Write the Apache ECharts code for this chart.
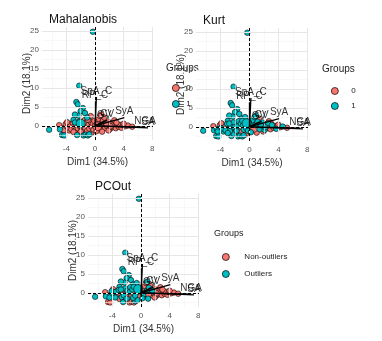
<!DOCTYPE html>
<html>
<head>
<meta charset="utf-8">
<script src="https://cdn.jsdelivr.net/npm/echarts@6/dist/echarts.min.js"></script>
<style>
  html, body { margin: 0; padding: 0; background: #fff; }
  #chart { width: 382px; height: 341px; }
</style>
</head>
<body>
<div id="chart"></div>
<script>
// individual coordinates (same PCA in all three panels)
var pts = [
  [-0.3, 24.8], [-2.2, 10.6], [-2.6, 6.3], [-2.4, 5.7], [-1.7, 4.7], [-2.0, 3.9], [-1.4, 3.4],
  [-2.3, 2.7], [-1.1, 2.2], [-3.0, 1.6], [0.9, 3.0], [-0.6, 2.6], [-2.8, 3.0],
  [-6.4, -1.0], [-4.9, -0.9], [-4.6, -2.4], [-4.3, -2.5], [-4.0, -0.3], [-3.6, -1.2],
  [-2.5, -2.4], [-1.6, -2.5], [-1.3, -2.3], [-1.0, -2.5], [-0.8, -2.2], [-2.2, -1.8], [-0.5, -1.9],
  [-5.0, 0.2], [-4.5, -0.6], [-4.1, 0.5], [-3.8, -0.4], [-3.5, 0.3], [-3.3, -0.9], [-3.1, 0.8],
  [-2.9, -0.2], [-2.7, -1.1], [-2.6, 0.4], [-2.4, -0.6], [-2.2, 1.2], [-2.1, -0.1], [-1.9, 0.6],
  [-1.8, -1.0], [-1.6, 0.2], [-1.5, 1.5], [-1.4, -0.5], [-1.2, 0.9], [-1.1, -1.3], [-0.9, 0.3],
  [-0.8, -0.7], [-0.6, 1.1], [-0.5, -0.2], [-0.3, 0.6], [-0.2, -1.0], [-3.9, 1.0], [-4.4, -1.2],
  [-3.0, -1.6], [-2.0, -1.5], [-1.0, 1.6], [-2.8, 0.9],
  [0.1, 0.4], [0.3, -0.6], [0.5, 1.0], [0.6, -0.2], [0.8, 0.5], [0.9, -1.0], [1.1, 1.4],
  [1.2, 0.1], [1.4, -0.6], [1.5, 0.8], [1.7, -0.1], [1.8, 1.2], [2.0, 0.3], [2.1, -0.8],
  [2.3, 0.7], [2.4, -0.3], [2.6, 1.0], [2.8, 0.1], [2.9, -0.6], [3.1, 0.5], [3.3, -0.2],
  [3.5, 0.3], [3.7, -0.5], [3.9, 0.2], [4.2, -0.1], [4.6, 0.1], [5.2, -0.2], [0.4, 1.8],
  [1.3, 2.2], [0.2, -1.4], [1.0, -1.5], [1.9, -1.2], [2.7, 1.5], [0.7, 2.6], [-0.1, 1.3],
  [1.6, 0.4], [3.0, 0.9], [2.2, -0.1], [4.0, 0.6]
];
// group per point: 1 = outlier
var grpMaha = [
  1,1,1,1,1,1,1, 1,1,1,0,0,1,
  1,1,1,1,0,0,
  1,1,1,1,1,0,0,
  0,0,0,0,0,0,0, 0,0,0,0,1,0,0, 0,0,0,0,0,0,0, 0,0,0,0,0,0,0, 0,0,0,1,
  0,0,0,0,0,0,0, 0,0,0,0,0,0,0, 0,0,0,0,0,0,0, 0,0,0,0,0,0,0, 0,0,0,0,0,0,0, 0,0,0,0
];
var grpKurt = [
  1,1,1,1,1,1,1, 1,1,1,1,1,1,
  1,1,1,1,1,1,
  1,1,1,1,1,1,0,
  0,1,0,1,0,1,1, 0,1,1,0,1,1,0, 1,1,1,0,1,0,1, 1,0,1,0,1,0,1, 1,0,1,1,
  1,0,1,0,1,0,1, 0,1,0,0,1,0,1, 0,0,1,0,0,1,0, 0,1,0,0,1,0,1, 0,1,0,0,0,1,1, 1,0,1,0
];
var grpPCOut = [
  1,1,1,1,1,1,1, 1,1,1,1,1,1,
  1,1,0,0,1,1,
  1,0,0,0,1,0,1,
  0,0,1,0,1,0,1, 0,1,0,1,1,0,1, 0,1,1,0,1,1,0, 1,1,0,1,0,0,1, 0,1,1,1,
  0,1,0,0,1,0,1, 0,0,1,0,0,0,0, 0,0,0,0,0,0,0, 0,0,0,0,0,0,0, 0,1,1,0,0,0,0, 1,0,0,0
];
// group centroids [group0, group1]
var meanMaha = [[0.3, -0.1], [-2.0, 0.6]];
var meanKurt = [[0.6, -0.2], [-0.4, 1.0]];
var meanPCOut = [[0.9, -0.1], [-0.4, 1.0]];

// variable arrows
var varNames = ['SpA_C', 'RP_C', 'SyA', 'CV', 'GV', 'NGA', 'SA'];
var varX = [0.2, 0.0, 4.1, 1.7, 1.3, 7.0, 7.4];
var varY = [7.6, 6.5, 2.2, 1.5, 1.3, -0.3, -0.5];

var xTicks = [-4, 0, 4, 8];
var yTicks = [0, 5, 10, 15, 20, 25];
var xMinor = [-6, -2, 2, 6];
var yMinor = [-2.5, 2.5, 7.5, 12.5, 17.5, 22.5];

var panels = [
  { title: 'Mahalanobis', grp: grpMaha, mean: meanMaha, names: ['0', '1'],
    grid: { left: 42, top: 27, width: 111, height: 113 } },
  { title: 'Kurt', grp: grpKurt, mean: meanKurt, names: ['0', '1'],
    grid: { left: 196, top: 28, width: 112, height: 113 } },
  { title: 'PCOut', grp: grpPCOut, mean: meanPCOut, names: ['Non-outliers', 'Outliers'],
    grid: { left: 88, top: 194, width: 111, height: 113 } }
];

var colors = ['#F8766D', '#00BFC4'];
var font = 'Liberation Sans, Arial, sans-serif';

var myChart = echarts.init(document.getElementById('chart'));

var grids = [], xAxes = [], yAxes = [], series = [], titles = [];

panels.forEach(function (p, i) {
  grids.push(p.grid);
  titles.push({
    text: p.title, left: p.grid.left + 2, top: p.grid.top - 18,
    textStyle: { fontSize: 12, fontWeight: 'normal', color: '#111', fontFamily: font }
  });
  xAxes.push({
    gridIndex: i, type: 'value', min: -7.4, max: 8.1,
    name: 'Dim1 (34.5%)', nameLocation: 'middle', nameGap: 17, nameMoveOverlap: false,
    nameTextStyle: { fontSize: 10, color: '#333', fontFamily: font },
    axisLine: { show: false }, splitLine: { show: false },
    axisTick: { show: true, length: 2, customValues: xTicks, lineStyle: { color: '#666' } },
    axisLabel: { customValues: xTicks, fontSize: 8, color: '#555', margin: 5, fontFamily: font }
  });
  yAxes.push({
    gridIndex: i, type: 'value', min: -3.7, max: 26.05,
    name: 'Dim2 (18.1%)', nameLocation: 'middle', nameGap: 10, nameMoveOverlap: false,
    nameTextStyle: { fontSize: 10, color: '#333', fontFamily: font },
    axisLine: { show: false }, splitLine: { show: false },
    axisTick: { show: true, length: 2, customValues: yTicks, lineStyle: { color: '#666' } },
    axisLabel: { customValues: yTicks, fontSize: 8, color: '#555', margin: 3, fontFamily: font }
  });

  // gridlines and dashed zero lines
  var gl = [];
  xMinor.forEach(function (v) { gl.push({ xAxis: v, lineStyle: { color: '#f4f4f4', width: 0.6, type: 'solid' } }); });
  yMinor.forEach(function (v) { gl.push({ yAxis: v, lineStyle: { color: '#f4f4f4', width: 0.6, type: 'solid' } }); });
  xTicks.forEach(function (v) { gl.push({ xAxis: v, lineStyle: { color: '#e6e6e6', width: 1, type: 'solid' } }); });
  yTicks.forEach(function (v) { gl.push({ yAxis: v, lineStyle: { color: '#e6e6e6', width: 1, type: 'solid' } }); });
  gl.push({ xAxis: 0, lineStyle: { color: '#000', width: 1, type: [3, 2] } });
  gl.push({ yAxis: 0, lineStyle: { color: '#000', width: 1, type: [3, 2] } });
  series.push({
    type: 'scatter', xAxisIndex: i, yAxisIndex: i, data: [[0, 0]], symbolSize: 0, silent: true, z: 1,
    markLine: { silent: true, symbol: 'none', label: { show: false }, animation: false, data: gl }
  });

  // points by group
  [0, 1].forEach(function (g) {
    var d = [];
    pts.forEach(function (pt, k) { if (p.grp[k] === g) d.push(pt); });
    d.push({ value: p.mean[g], symbolSize: 9 });
    series.push({
      name: p.names[g], type: 'scatter', xAxisIndex: i, yAxisIndex: i, z: 3,
      symbolSize: 5.5, data: d,
      itemStyle: { color: colors[g], borderColor: '#000', borderWidth: 0.6, opacity: 1 }
    });
  });

  // variable arrows
  series.push({
    type: 'scatter', xAxisIndex: i, yAxisIndex: i, z: 5, symbolSize: 0, silent: true,
    data: varNames.map(function (n, k) { return { name: n, value: [varX[k], varY[k]] }; }),
    label: { show: true, position: 'top', distance: 1, formatter: '{b}', fontSize: 10, color: '#000', fontFamily: font },
    markLine: {
      silent: true, symbol: ['none', 'arrow'], symbolSize: [0, 6], animation: false,
      label: { show: false },
      lineStyle: { color: '#000', width: 1.3, type: 'solid' },
      data: varNames.map(function (n, k) { return [{ coord: [0, 0] }, { coord: [varX[k], varY[k]] }]; })
    }
  });
});

var legendText = { fontSize: 8, color: '#222', fontFamily: font };
var legendItem = { borderColor: '#000', borderWidth: 0.7 };
var option = {
  animation: false,
  title: titles,
  grid: grids,
  xAxis: xAxes,
  yAxis: yAxes,
  legend: [
    { data: ['0', '1'], orient: 'vertical', left: 167, top: 79, itemWidth: 7, itemHeight: 7, itemGap: 8,
      icon: 'circle', itemStyle: legendItem, textStyle: Object.assign({ padding: [0, 0, 0, 2] }, legendText), selectedMode: false },
    { data: ['0', '1'], orient: 'vertical', left: 326, top: 82, itemWidth: 7, itemHeight: 7, itemGap: 7,
      icon: 'circle', itemStyle: legendItem, textStyle: Object.assign({ padding: [0, 0, 0, 8] }, legendText), selectedMode: false },
    { data: ['Non-outliers', 'Outliers'], orient: 'vertical', left: 217, top: 248, itemWidth: 7, itemHeight: 7, itemGap: 9,
      icon: 'circle', itemStyle: legendItem, textStyle: Object.assign({ padding: [0, 0, 0, 10] }, legendText), selectedMode: false }
  ],
  graphic: [
    { type: 'text', left: 166, top: 63, style: { text: 'Groups', fontSize: 10, fill: '#222', fontFamily: font } },
    { type: 'text', left: 322, top: 64, style: { text: 'Groups', fontSize: 10, fill: '#222', fontFamily: font } },
    { type: 'text', left: 214, top: 229, style: { text: 'Groups', fontSize: 9, fill: '#222', fontFamily: font } }
  ],
  series: series
};

myChart.setOption(option);
</script>
</body>
</html>
